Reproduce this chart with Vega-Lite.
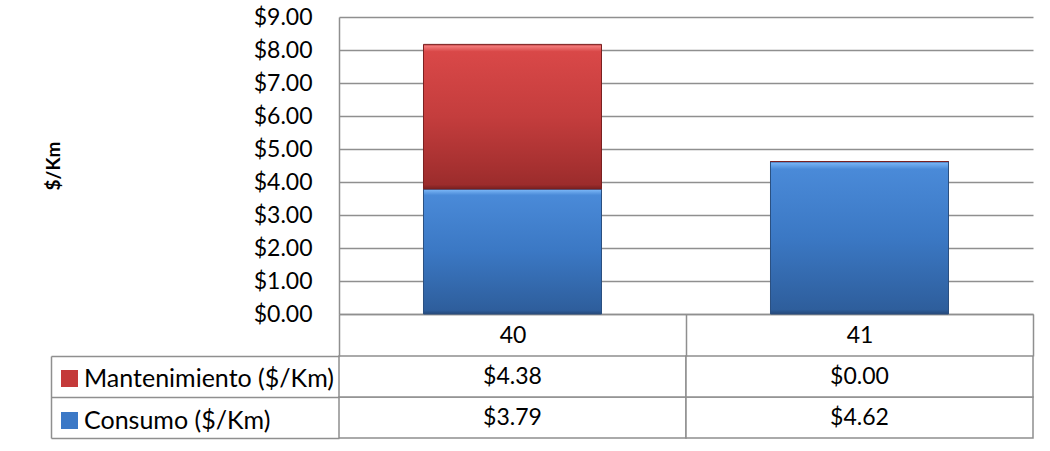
{
  "$schema": "https://vega.github.io/schema/vega-lite/v6.json",
  "background": "white",
  "autosize": {"type": "pad"},
  "padding": {"left": 44, "top": 6, "right": 10, "bottom": 10},
  "bounds": "flush",
  "spacing": 42,
  "config": {
    "view": {"stroke": null},
    "font": "Lato",
    "axis": {"labelFont": "Lato", "titleFont": "Lato", "labelColor": "#000000", "titleColor": "#000000"},
    "text": {"font": "Lato"}
  },
  "datasets": {
    "costs": [
      {"vehiculo": "40", "serie": "Consumo ($/Km)", "valor": 3.79},
      {"vehiculo": "40", "serie": "Mantenimiento ($/Km)", "valor": 4.38},
      {"vehiculo": "41", "serie": "Consumo ($/Km)", "valor": 4.62},
      {"vehiculo": "41", "serie": "Mantenimiento ($/Km)", "valor": 0}
    ]
  },
  "vconcat": [
    {
      "width": 694,
      "height": 297,
      "data": {"name": "costs"},
      "transform": [
        {"stack": "valor", "groupby": ["vehiculo"], "sort": [{"field": "serie", "order": "ascending"}], "as": ["v0", "v1"]}
      ],
      "encoding": {
        "x": {
          "field": "vehiculo", "type": "nominal",
          "scale": {"paddingInner": 0.487, "paddingOuter": 0.2435},
          "axis": {
            "orient": "bottom", "title": null, "labels": false, "ticks": false,
            "domainColor": "#8f8f8f", "domainWidth": 1.5, "grid": false
          }
        },
        "y": {
          "field": "v0", "type": "quantitative",
          "scale": {"domain": [0, 9], "nice": false},
          "axis": {
            "title": "$/Km", "titleFontSize": 19, "titleFontWeight": "bold", "titleX": -276, "titleBaseline": "bottom",
            "values": [0, 1, 2, 3, 4, 5, 6, 7, 8, 9], "format": "$.2f",
            "labelFontSize": 23, "labelPadding": 27, "ticks": false,
            "domainColor": "#8f8f8f", "domainWidth": 1.5,
            "grid": true, "gridColor": "#8f8f8f", "gridWidth": 1.5
          }
        },
        "y2": {"field": "v1"}
      },
      "layer": [
        {
          "transform": [{"filter": "datum.serie == 'Consumo ($/Km)'"}],
          "mark": {
            "type": "bar", "stroke": "#2a4f80", "strokeWidth": 1,
            "fill": {"gradient": "linear", "x1": 0, "y1": 0, "x2": 0, "y2": 1,
              "stops": [
                {"offset": 0, "color": "#3d74b8"},
                {"offset": 0.012, "color": "#74b0f2"},
                {"offset": 0.05, "color": "#4a8ad8"},
                {"offset": 0.5, "color": "#3b78c4"},
                {"offset": 0.97, "color": "#2e5e9c"},
                {"offset": 1, "color": "#25497a"}
              ]}
          }
        },
        {
          "transform": [{"filter": "datum.serie == 'Mantenimiento ($/Km)'"}],
          "mark": {
            "type": "bar", "stroke": "#7a2020", "strokeWidth": 1,
            "fill": {"gradient": "linear", "x1": 0, "y1": 0, "x2": 0, "y2": 1,
              "stops": [
                {"offset": 0, "color": "#b03030"},
                {"offset": 0.012, "color": "#f27a7a"},
                {"offset": 0.05, "color": "#d94848"},
                {"offset": 0.5, "color": "#c43d3d"},
                {"offset": 0.97, "color": "#9c2c2c"},
                {"offset": 1, "color": "#7a2020"}
              ]}
          }
        }
      ]
    },
    {
      "width": 694,
      "height": 82,
      "data": {"name": "costs"},
      "encoding": {
        "x": {
          "field": "vehiculo", "type": "nominal", "scale": {"paddingInner": 0, "paddingOuter": 0},
          "axis": {
            "orient": "top", "title": null, "labelAngle": 0, "labelFontSize": 23,
            "tickBand": "extent", "tickSize": 42, "tickColor": "#8f8f8f", "tickWidth": 1.5,
            "domain": false, "labelPadding": -21, "labelBaseline": "middle", "grid": false
          }
        },
        "y": {
          "field": "serie", "type": "nominal",
          "sort": ["Mantenimiento ($/Km)", "Consumo ($/Km)"],
          "scale": {"paddingInner": 0, "paddingOuter": 0},
          "axis": {
            "title": null, "labels": false, "offset": 288, "tickSize": -288, "tickBand": "extent",
            "tickColor": "#8f8f8f", "tickWidth": 1.5, "domainColor": "#8f8f8f", "domainWidth": 1.5, "grid": false
          }
        }
      },
      "layer": [
        {"mark": {"type": "rect", "fill": "white", "stroke": "#8f8f8f", "strokeWidth": 1.5}},
        {
          "mark": {"type": "text", "fontSize": 23, "font": "Lato", "color": "#000000"},
          "encoding": {"text": {"field": "valor", "type": "quantitative", "format": "$.2f"}}
        },
        {
          "mark": {"type": "square", "size": 0, "filled": true, "opacity": 1},
          "encoding": {
            "color": {
              "field": "serie", "type": "nominal",
              "scale": {"domain": ["Mantenimiento ($/Km)", "Consumo ($/Km)"], "range": ["#c43a3a", "#3b78c6"]},
              "legend": {
                "orient": "none", "legendX": -282, "legendY": 349, "title": null,
                "symbolType": "square", "symbolSize": 289, "symbolStrokeWidth": 0,
                "labelFontSize": 25, "labelFont": "Lato", "labelColor": "#000000", "labelLimit": 0,
                "labelOffset": 2, "rowPadding": 16, "padding": 0
              }
            }
          }
        }
      ]
    }
  ]
}
